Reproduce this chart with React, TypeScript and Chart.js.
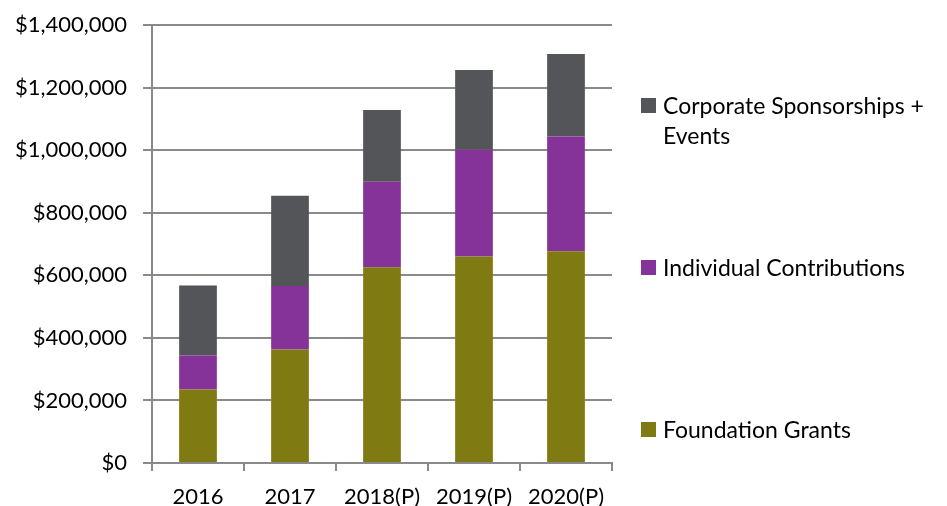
import React, { useEffect, useRef } from "react";
import { Chart, registerables } from "chart.js";

Chart.register(...registerables);

const categories = ["2016", "2017", "2018(P)", "2019(P)", "2020(P)"];
const foundationGrants = [235000, 363000, 626000, 660000, 677000];
const individualContributions = [109000, 203000, 273000, 341000, 367000];
const corporateSponsorships = [223000, 288000, 229000, 255000, 263000];
const yTicks = [0, 200000, 400000, 600000, 800000, 1000000, 1200000, 1400000];

const COLORS = {
  foundation: "#807A12",
  individual: "#863399",
  corporate: "#545559",
  grid: "#8a8a8a",
};

const FONT = "Lato, 'Open Sans', sans-serif";

const legendItems = [
  { label: "Corporate Sponsorships + Events", color: COLORS.corporate, top: 90 },
  { label: "Individual Contributions", color: COLORS.individual, top: 252 },
  { label: "Foundation Grants", color: COLORS.foundation, top: 414 },
];

export default function App() {
  const ref = useRef<HTMLCanvasElement | null>(null);

  useEffect(() => {
    document.body.style.margin = "0";
    const ctx = ref.current;
    if (!ctx) return;
    const chart = new Chart(ctx, {
      type: "bar",
      data: {
        labels: categories,
        datasets: [
          { label: "Foundation Grants", data: foundationGrants, backgroundColor: COLORS.foundation },
          { label: "Individual Contributions", data: individualContributions, backgroundColor: COLORS.individual },
          { label: "Corporate Sponsorships + Events", data: corporateSponsorships, backgroundColor: COLORS.corporate },
        ],
      },
      options: {
        animation: false,
        responsive: false,
        maintainAspectRatio: false,
        layout: { padding: { left: 0, right: 335, top: 25, bottom: 0 } },
        plugins: { legend: { display: false }, tooltip: { enabled: false } },
        datasets: { bar: { barPercentage: 0.41, categoryPercentage: 1 } },
        scales: {
          x: {
            stacked: true,
            afterFit: (s: any) => { s.height = 43; },
            grid: {
              display: true,
              drawOnChartArea: false,
              drawTicks: true,
              tickLength: 8,
              color: COLORS.grid,
              lineWidth: 2,
              offset: true,
            },
            border: { display: true, color: COLORS.grid, width: 2 },
            ticks: { color: "#000", font: { family: FONT, size: 22 }, padding: 13 },
          },
          y: {
            stacked: true,
            min: 0,
            max: 1400000,
            afterFit: (s: any) => { s.width = 152; s.paddingTop = 0; },
            afterBuildTicks: (s: any) => { s.ticks = yTicks.map((v) => ({ value: v })); },
            grid: { color: COLORS.grid, lineWidth: 2, tickLength: 9, drawTicks: true },
            border: { display: true, color: COLORS.grid, width: 2 },
            ticks: {
              color: "#000",
              font: { family: FONT, size: 22 },
              padding: 16,
              callback: (v: any) => "$" + Number(v).toLocaleString("en-US"),
            },
          },
        },
      },
    });
    return () => chart.destroy();
  }, []);

  return (
    <div style={{ position: "relative", width: 947, height: 506, background: "#fff" }}>
      <canvas ref={ref} width={947} height={506} style={{ position: "absolute", left: 0, top: 0 }} />
      {legendItems.map((it) => (
        <div
          key={it.label}
          style={{
            position: "absolute",
            left: 641,
            top: it.top,
            width: 300,
            display: "flex",
            alignItems: "flex-start",
            fontFamily: FONT,
            fontSize: 23,
            lineHeight: "30px",
            color: "#000",
          }}
        >
          <span
            style={{
              display: "inline-block",
              width: 15,
              height: 15,
              marginTop: 8,
              marginRight: 7,
              background: it.color,
              flex: "0 0 auto",
            }}
          />
          <span style={{ width: 275 }}>{it.label}</span>
        </div>
      ))}
    </div>
  );
}
